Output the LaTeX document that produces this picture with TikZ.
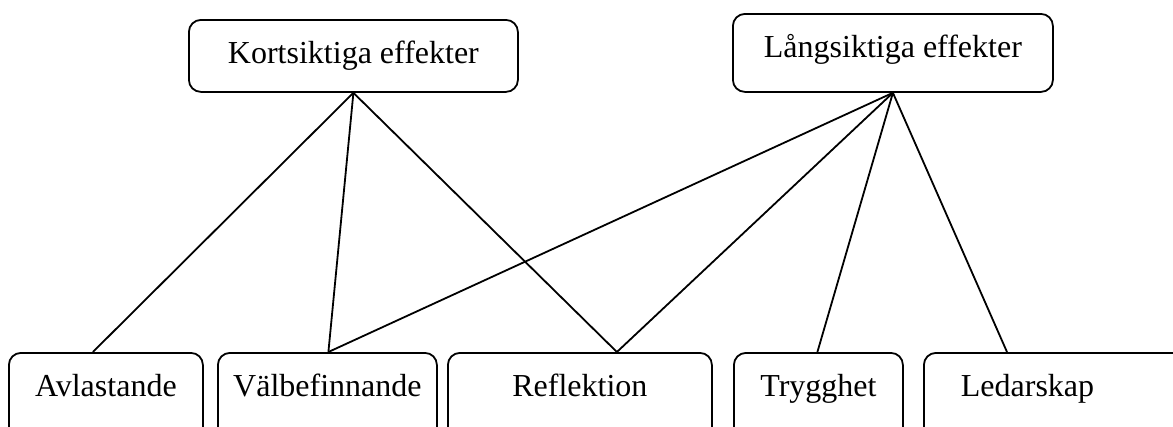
\documentclass[tikz,border=0pt]{standalone}
\usepackage{fontspec}
\setmainfont{Liberation Serif}
\begin{document}
\begin{tikzpicture}[x=1pt,y=1pt,line width=1.8pt,box/.style={draw,rounded corners=12pt,anchor=north west,inner xsep=0pt,inner ysep=0pt,text height=44pt,font=\fontsize{32pt}{38pt}\selectfont}]
\useasboundingbox (0,0) rectangle (1173,-426);
\clip (0,0) rectangle (1173,-426);
\node[box,minimum width=329pt,text depth=28pt] (k) at (188,-19) {Kortsiktiga effekter};
\node[box,minimum width=320pt,text depth=34pt] (l) at (732,-13) {Långsiktiga effekter};
\node[box,minimum width=194pt,text depth=90pt] (av) at (8,-352) {Avlastande};
\node[box,minimum width=219pt,text depth=90pt] (vb) at (217,-352) {Välbefinnande};
\node[box,minimum width=264pt,text depth=90pt] (rf) at (447,-352) {Reflektion};
\node[box,minimum width=169pt,text depth=90pt] (tr) at (733,-352) {Trygghet};
\node[box,text width=203pt,align=left,inner xsep=37pt,text depth=90pt] (ld) at (923,-352) {Ledarskap};
\draw (k.south)--([xshift=-13pt]av.north);
\draw (k.south)--([xshift=1pt]vb.north);
\draw (k.south)--([xshift=37pt]rf.north);
\draw (l.south)--([xshift=1pt]vb.north);
\draw (l.south)--([xshift=37pt]rf.north);
\draw (l.south)--([xshift=-1pt]tr.north);
\draw (l.south)--([xshift=1007pt-923pt]ld.north west);
\end{tikzpicture}
\end{document}
